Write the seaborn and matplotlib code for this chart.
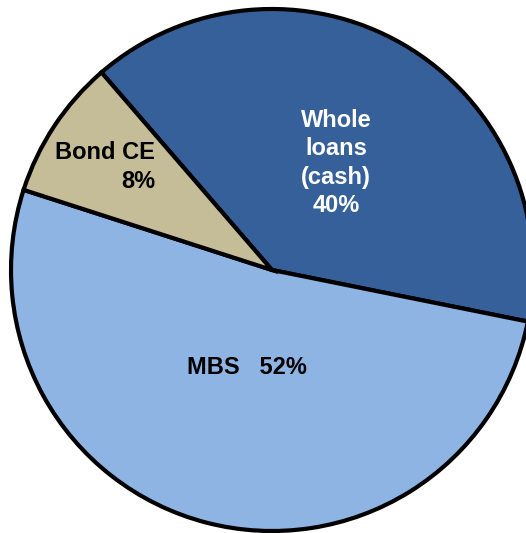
import seaborn as sns
import matplotlib.pyplot as plt

sns.set_theme(style="white")
plt.rcParams['font.family'] = ['Liberation Sans', 'DejaVu Sans']

segments = ["Whole loans (cash)", "MBS", "Bond CE"]
shares = [39.5, 51.8, 8.7]
labels = ["Whole\nloans\n(cash)\n40%", "MBS   52%", "Bond CE\n8%"]
colors = ["#36609A", "#8EB4E3", "#C4BD97"]

W, H = 526, 533
fig = plt.figure(figsize=(W / 100, H / 100), dpi=100)
cx, cy, r = 272, 270, 261
ax = fig.add_axes([(cx - r) / W, (H - cy - r) / H, 2 * r / W, 2 * r / H])

wedges, _ = ax.pie(shares, colors=colors, startangle=130.8, counterclock=False,
                   radius=1, wedgeprops=dict(edgecolor="black", linewidth=3))
for w in wedges:
    w.set_clip_on(False)
ax.set_xlim(-1, 1)
ax.set_ylim(-1, 1)
ax.set_aspect("equal")
ax.axis("off")

def to_data(px, py):
    return (px - cx) / r, (cy - py) / r

x, y = to_data(336, 163)
ax.text(x, y, labels[0], color="white", fontsize=17, fontweight="bold",
        ha="center", va="center", ma="center", linespacing=1.3)
x, y = to_data(247, 368)
ax.text(x, y, labels[1], color="black", fontsize=17, fontweight="bold",
        ha="center", va="center")
x, y = to_data(155, 167)
ax.text(x, y, labels[2], color="black", fontsize=17, fontweight="bold",
        ha="right", va="center", ma="right", linespacing=1.3)

fig.savefig("out.png", dpi=100)
